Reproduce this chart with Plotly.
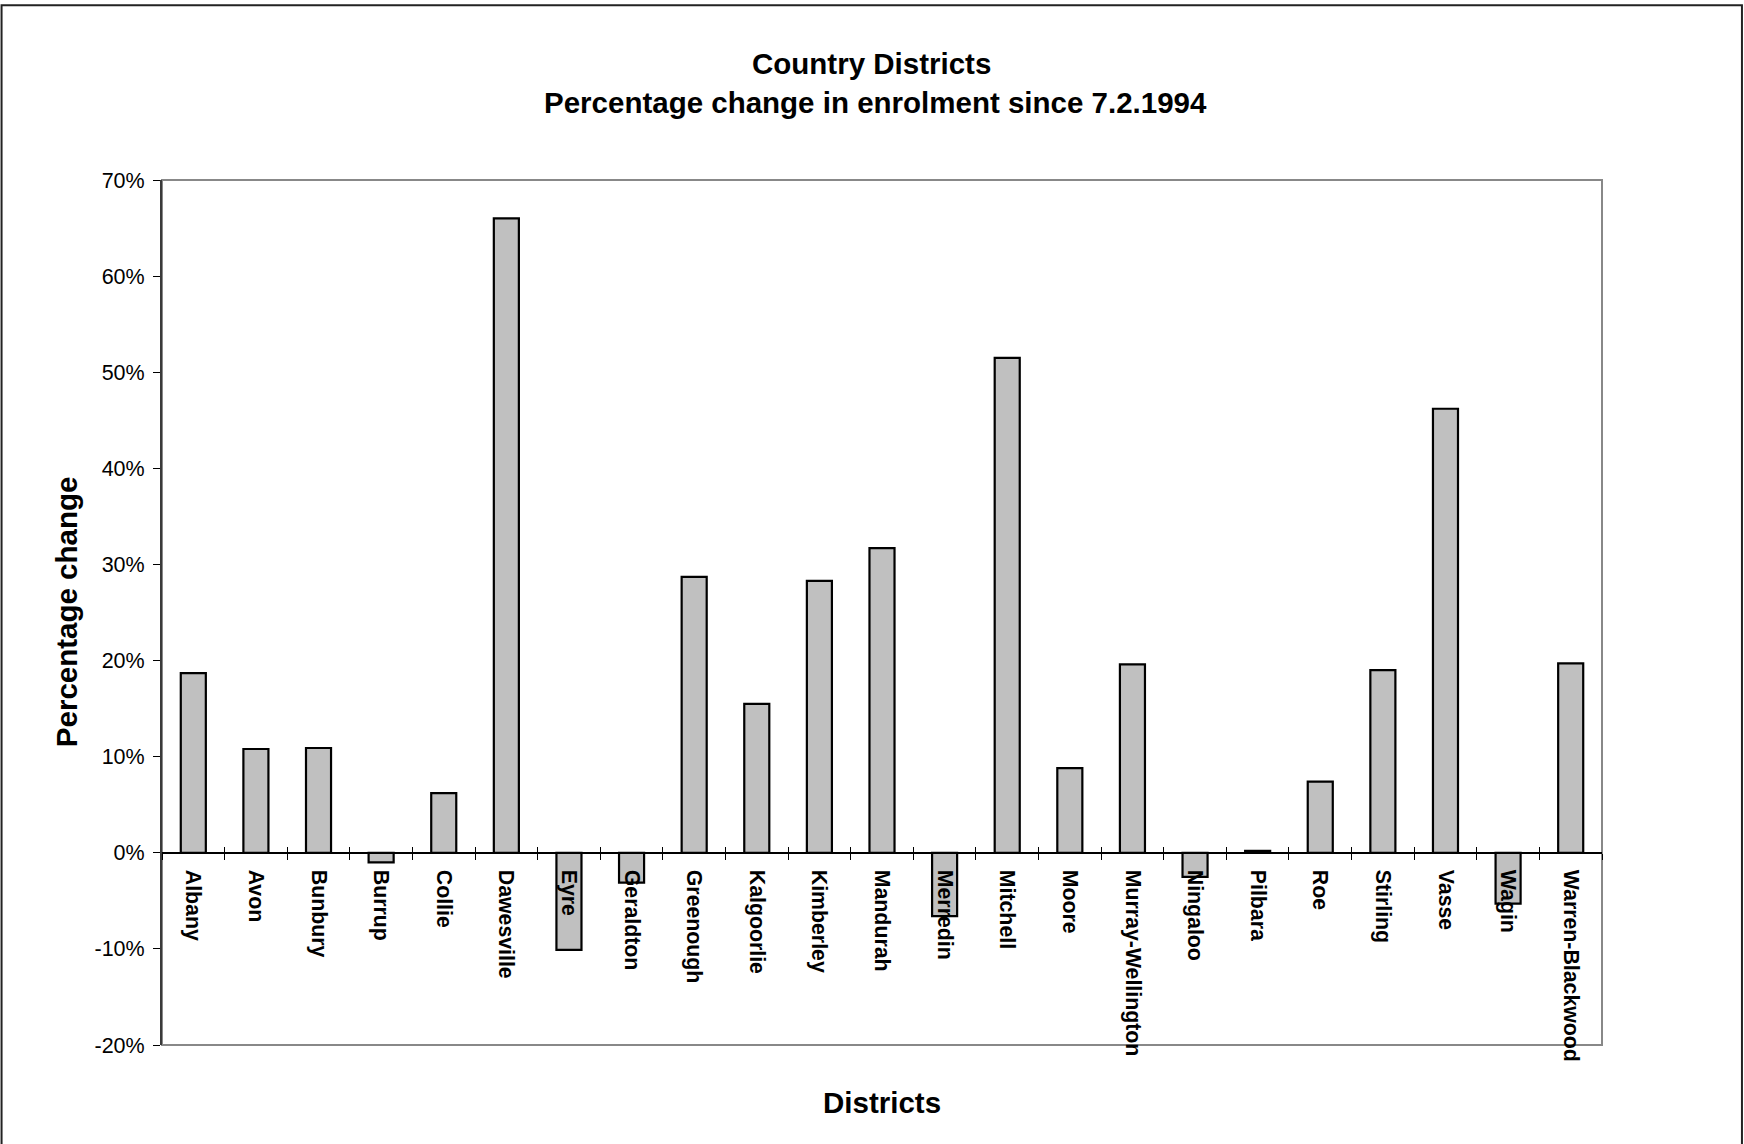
import plotly.graph_objects as go

districts = ["Albany", "Avon", "Bunbury", "Burrup", "Collie", "Dawesville", "Eyre",
             "Geraldton", "Greenough", "Kalgoorlie", "Kimberley", "Mandurah", "Merredin",
             "Mitchell", "Moore", "Murray-Wellington", "Ningaloo", "Pilbara", "Roe",
             "Stirling", "Vasse", "Wagin", "Warren-Blackwood"]
pct_change = [18.7, 10.8, 10.9, -1.0, 6.2, 66.0, -10.1,
              -3.1, 28.7, 15.5, 28.3, 31.7, -6.6,
              51.5, 8.8, 19.6, -2.5, 0.2, 7.4,
              19.0, 46.2, -5.3, 19.7]
y_ticks = [-20, -10, 0, 10, 20, 30, 40, 50, 60, 70]
y_tick_labels = ["-20%", "-10%", "0%", "10%", "20%", "30%", "40%", "50%", "60%", "70%"]

FONT = "Arial, 'Liberation Sans', sans-serif"
W, H = 1744, 1144
L, R, T, B = 161.5, 1602, 180.3, 1045.5
ymin, ymax = -20, 70
zero_pos = (0 - ymin) / (ymax - ymin)
TITLE_SIZE = 29.5

def px_x(x):
    return (x - L) / (R - L)

def px_y(y):
    return (B - y) / (B - T)

fig = go.Figure()
fig.add_trace(go.Bar(
    x=districts, y=pct_change,
    marker=dict(color="#C0C0C0", line=dict(color="#000000", width=2.2)),
    width=0.4, showlegend=False, hoverinfo="x+y",
))

fig.update_layout(
    width=W, height=H,
    margin=dict(l=L, r=W - R, t=T, b=H - B, pad=0),
    paper_bgcolor="white", plot_bgcolor="white",
    font=dict(family=FONT, color="#000000"),
    showlegend=False,
    xaxis=dict(
        type="category", categoryorder="array", categoryarray=districts,
        range=[-0.5, len(districts) - 0.5],
        anchor="free", position=zero_pos,
        showline=True, linecolor="#000000", linewidth=1.5,
        ticks="outside", tickson="boundaries", ticklen=6, tickwidth=1, tickcolor="#000000",
        tickangle=90, ticklabelstandoff=12,
        tickfont=dict(family=FONT, size=21.3, color="#000000", weight="bold"),
        showgrid=False, zeroline=False,
    ),
    xaxis2=dict(
        type="category", categoryorder="array", categoryarray=districts,
        matches="x", overlaying="x", anchor="free", position=zero_pos,
        showline=False, ticks="inside", tickson="boundaries", ticklen=6, tickwidth=1,
        tickcolor="#000000", showticklabels=False, showgrid=False, zeroline=False,
    ),
    yaxis=dict(
        range=[ymin, ymax], tickvals=y_ticks, ticktext=y_tick_labels,
        showline=True, linecolor="#3a3a3a", linewidth=2,
        ticks="outside", ticklen=7, tickwidth=1, tickcolor="#000000",
        ticklabelstandoff=4,
        tickfont=dict(family=FONT, size=21.5, color="#000000"),
        showgrid=False, zeroline=False,
    ),
    shapes=[
        dict(type="rect", xref="x domain", yref="y domain", x0=0, x1=1, y0=0, y1=1,
             line=dict(color="#888888", width=2), layer="below"),
        dict(type="rect", xref="paper", yref="paper",
             x0=px_x(1), x1=px_x(1742), y0=px_y(5.5), y1=px_y(1160),
             line=dict(color="#222222", width=2), layer="below"),
    ],
    annotations=[
        dict(text="<b>Country Districts</b>", xref="paper", yref="paper",
             x=px_x(871), y=px_y(64), xanchor="center", yanchor="middle",
             showarrow=False, font=dict(family=FONT, size=TITLE_SIZE, color="#000000")),
        dict(text="<b>Percentage change in enrolment since 7.2.1994</b>", xref="paper", yref="paper",
             x=px_x(875), y=px_y(103), xanchor="center", yanchor="middle",
             showarrow=False, font=dict(family=FONT, size=TITLE_SIZE, color="#000000")),
        dict(text="<b>Districts</b>", xref="paper", yref="paper",
             x=px_x(882), y=px_y(1103), xanchor="center", yanchor="middle",
             showarrow=False, font=dict(family=FONT, size=TITLE_SIZE, color="#000000")),
        dict(text="<b>Percentage change</b>", xref="paper", yref="paper",
             x=px_x(66), y=px_y(612), xanchor="center", yanchor="middle", textangle=-90,
             showarrow=False, font=dict(family=FONT, size=TITLE_SIZE, color="#000000")),
    ],
)
# invisible companion trace so the overlay axis (cross tick marks) is rendered
fig.add_trace(go.Bar(x=districts, y=[0] * len(districts), xaxis="x2", yaxis="y",
                     marker=dict(color="rgba(0,0,0,0)"), showlegend=False, hoverinfo="skip",
                     width=0.4))

fig.write_html("out.html", config={"displayModeBar": False},
               post_script="document.body.style.margin='0';document.body.style.overflow='hidden';")
